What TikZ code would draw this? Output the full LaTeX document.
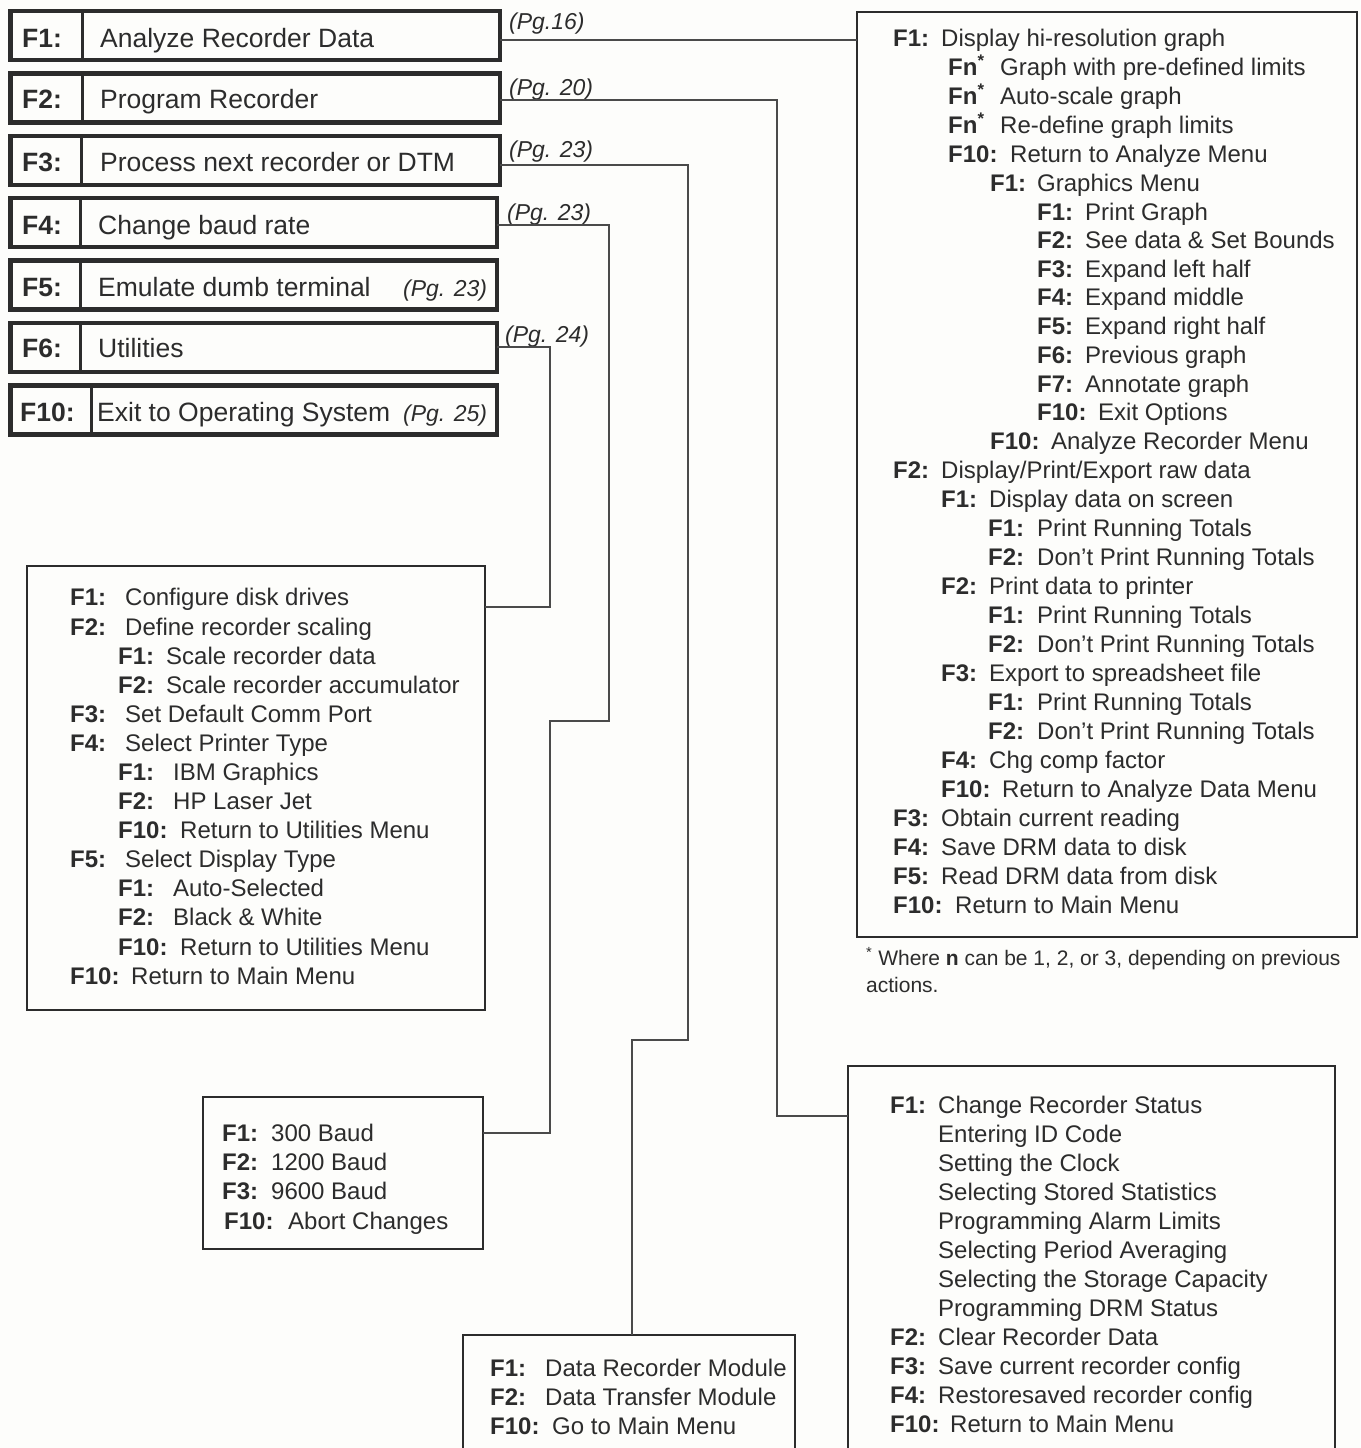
\documentclass[tikz,border=0pt]{standalone}
\usepackage{fontspec}
\setmainfont{Liberation Sans}
\definecolor{ink}{HTML}{2C2C2C}
\definecolor{wirec}{HTML}{4A4A4A}
\definecolor{paper}{HTML}{FDFDFB}
\newcounter{lnc}
\newcommand{\ml}[5]{\stepcounter{lnc}\node[lab] (la\arabic{lnc}) at (#1,#3+8.5) {#4};\node[txt] (tx\arabic{lnc}) at (#2,#3+8.5) {#5};}
\newcommand{\mt}[3]{\stepcounter{lnc}\node[txt] (tx\arabic{lnc}) at (#1,#2+8.5) {#3};}
\newcommand{\fnst}{Fn\textsuperscript{*}}
\begin{document}
\begin{tikzpicture}[x=1pt,y=-1pt,
  mainbox/.style={draw=ink, line width=4.5pt, minimum height=49pt, inner sep=0pt, outer sep=0pt, anchor=north west},
  mainline/.style={draw=ink, line width=3.5pt},
  subbox/.style={draw=ink, line width=2.6pt, inner sep=0pt, outer sep=0pt, anchor=north west},
  wire/.style={draw=wirec, line width=2pt},
  lab/.style={font=\bfseries\fontsize{24}{28}\selectfont, text=ink, anchor=base west, inner sep=0pt},
  txt/.style={font=\fontsize{24}{28}\selectfont, text=ink, anchor=base west, inner sep=0pt},
  mlab/.style={font=\bfseries\fontsize{26.5}{30}\selectfont, text=ink, anchor=base west, inner sep=0pt},
  mtxt/.style={font=\fontsize{26.5}{30}\selectfont, text=ink, anchor=base west, inner sep=0pt},
  pg/.style={font=\itshape\fontsize{23}{26}\selectfont, text=ink, anchor=base west, inner sep=0pt},
  foot/.style={font=\fontsize{21}{24}\selectfont, text=ink, anchor=base west, inner sep=0pt}
]
\fill[paper] (0,0) rectangle (1360,1448);
\useasboundingbox (0,0) rectangle (1360,1448);

% ---- main menu boxes ----
\node[mainbox, minimum width=489.5pt] (m1) at (10.5,11) {};
\node[mainbox, minimum width=489.5pt] (m2) at (10.5,73.4) {};
\node[mainbox, minimum width=489.5pt] (m3) at (10.5,135.8) {};
\node[mainbox, minimum width=486.5pt] (m4) at (10.5,198.2) {};
\node[mainbox, minimum width=486.5pt] (m5) at (10.5,260.6) {};
\node[mainbox, minimum width=486.5pt] (m6) at (10.5,323) {};
\node[mainbox, minimum width=486.5pt] (m7) at (10.5,385.4) {};
\draw[mainline] (m1.north west) ++(72,0) -- ++(0,49);
\draw[mainline] (m2.north west) ++(72,0) -- ++(0,49);
\draw[mainline] (m3.north west) ++(71,0) -- ++(0,49);
\draw[mainline] (m4.north west) ++(70,0) -- ++(0,49);
\draw[mainline] (m5.north west) ++(70,0) -- ++(0,49);
\draw[mainline] (m6.north west) ++(70,0) -- ++(0,49);
\draw[mainline] (m7.north west) ++(81,0) -- ++(0,49);

\node[mlab] (mk1) at (22,47.5) {F1:};
\node[mtxt] (mt1) at (100,47.5) {Analyze Recorder Data};
\node[mlab] (mk2) at (22,108.5) {F2:};
\node[mtxt] (mt2) at (100,108.5) {Program Recorder};
\node[mlab] (mk3) at (22,171.5) {F3:};
\node[mtxt] (mt3) at (100,171.5) {Process next recorder or DTM};
\node[mlab] (mk4) at (22,234.5) {F4:};
\node[mtxt] (mt4) at (98,234.5) {Change baud rate};
\node[mlab] (mk5) at (22,296.5) {F5:};
\node[mtxt] (mt5) at (98,296.5) {Emulate dumb terminal};
\node[pg] (p5) at (403,296.5) {(Pg. 23)};
\node[mlab] (mk6) at (22,357.5) {F6:};
\node[mtxt] (mt6) at (98,357.5) {Utilities};
\node[mlab] (mk7) at (20,421.5) {F10:};
\node[mtxt] (mt7) at (97,421.5) {Exit to Operating System};
\node[pg] (p7) at (403,421.5) {(Pg. 25)};

% page labels
\node[pg] (p1) at (509,29) {(Pg.16)};
\node[pg] (p2) at (509,95) {(Pg. 20)};
\node[pg] (p3) at (509,157) {(Pg. 23)};
\node[pg] (p4) at (507,220) {(Pg. 23)};
\node[pg] (p6) at (505,342) {(Pg. 24)};

% ---- sub-menu boxes ----
\node[subbox, minimum width=500pt, minimum height=925pt] (r1) at (857,12) {};
\node[subbox, minimum width=458pt, minimum height=444pt] (util) at (27,566) {};
\node[subbox, minimum width=280pt, minimum height=152pt] (baud) at (203,1097) {};
\node[subbox, minimum width=332pt, minimum height=140pt] (modb) at (463,1335) {};
\node[subbox, minimum width=487pt, minimum height=420pt] (r2) at (848,1066) {};

% ---- connectors ----
\draw[wire] (m1.east |- 0,40) -- (r1.west |- 0,40);
\draw[wire] (m2.east |- 0,100) -| (777,1116) -- (r2.west |- 0,1116);
\draw[wire] (m3.east |- 0,165) -| (688,1040) -| (modb.north -| 632,0);
\draw[wire] (m4.east |- 0,225) -| (609,721) -| (550,1133) -- (baud.east |- 0,1133);
\draw[wire] (m6.east |- 0,347) -| (550,607) -- (util.east |- 0,607);

% ---- analyze menu ----
\ml{893}{941}{38}{F1:}{Display hi-resolution graph}
\ml{948}{1000}{67}{\fnst}{Graph with pre-defined limits}
\ml{948}{1000}{96}{\fnst}{Auto-scale graph}
\ml{948}{1000}{125}{\fnst}{Re-define graph limits}
\ml{948}{1010}{154}{F10:}{Return to Analyze Menu}
\ml{990}{1037}{183}{F1:}{Graphics Menu}
\ml{1037}{1085}{212}{F1:}{Print Graph}
\ml{1037}{1085}{240}{F2:}{See data \& Set Bounds}
\ml{1037}{1085}{269}{F3:}{Expand left half}
\ml{1037}{1085}{297}{F4:}{Expand middle}
\ml{1037}{1085}{326}{F5:}{Expand right half}
\ml{1037}{1085}{355}{F6:}{Previous graph}
\ml{1037}{1085}{384}{F7:}{Annotate graph}
\ml{1037}{1098}{412}{F10:}{Exit Options}
\ml{990}{1051}{441}{F10:}{Analyze Recorder Menu}
\ml{893}{941}{470}{F2:}{Display/Print/Export raw data}
\ml{941}{989}{499}{F1:}{Display data on screen}
\ml{988}{1037}{528}{F1:}{Print Running Totals}
\ml{988}{1037}{557}{F2:}{Don't Print Running Totals}
\ml{941}{989}{586}{F2:}{Print data to printer}
\ml{988}{1037}{615}{F1:}{Print Running Totals}
\ml{988}{1037}{644}{F2:}{Don't Print Running Totals}
\ml{941}{989}{673}{F3:}{Export to spreadsheet file}
\ml{988}{1037}{702}{F1:}{Print Running Totals}
\ml{988}{1037}{731}{F2:}{Don't Print Running Totals}
\ml{941}{989}{760}{F4:}{Chg comp factor}
\ml{941}{1002}{789}{F10:}{Return to Analyze Data Menu}
\ml{893}{941}{818}{F3:}{Obtain current reading}
\ml{893}{941}{847}{F4:}{Save DRM data to disk}
\ml{893}{941}{876}{F5:}{Read DRM data from disk}
\ml{893}{955}{905}{F10:}{Return to Main Menu}

\node[foot] (fn1) at (866,965) {\textsuperscript{*} Where \textbf{n} can be 1, 2, or 3, depending on previous};
\node[foot] (fn2) at (866,992) {actions.};

% ---- utilities ----
\ml{70}{125}{597}{F1:}{Configure disk drives}
\ml{70}{125}{627}{F2:}{Define recorder scaling}
\ml{118}{166}{656}{F1:}{Scale recorder data}
\ml{118}{166}{685}{F2:}{Scale recorder accumulator}
\ml{70}{125}{714}{F3:}{Set Default Comm Port}
\ml{70}{125}{743}{F4:}{Select Printer Type}
\ml{118}{173}{772}{F1:}{IBM Graphics}
\ml{118}{173}{801}{F2:}{HP Laser Jet}
\ml{118}{180}{830}{F10:}{Return to Utilities Menu}
\ml{70}{125}{859}{F5:}{Select Display Type}
\ml{118}{173}{888}{F1:}{Auto-Selected}
\ml{118}{173}{917}{F2:}{Black \& White}
\ml{118}{180}{947}{F10:}{Return to Utilities Menu}
\ml{70}{131}{976}{F10:}{Return to Main Menu}

% ---- baud ----
\ml{222}{271}{1133}{F1:}{300 Baud}
\ml{222}{271}{1162}{F2:}{1200 Baud}
\ml{222}{271}{1191}{F3:}{9600 Baud}
\ml{224}{288}{1221}{F10:}{Abort Changes}

% ---- module ----
\ml{490}{545}{1368}{F1:}{Data Recorder Module}
\ml{490}{545}{1397}{F2:}{Data Transfer Module}
\ml{490}{552}{1426}{F10:}{Go to Main Menu}

% ---- program recorder ----
\ml{890}{938}{1105}{F1:}{Change Recorder Status}
\mt{938}{1134}{Entering ID Code}
\mt{938}{1163}{Setting the Clock}
\mt{938}{1192}{Selecting Stored Statistics}
\mt{938}{1221}{Programming Alarm Limits}
\mt{938}{1250}{Selecting Period Averaging}
\mt{938}{1279}{Selecting the Storage Capacity}
\mt{938}{1308}{Programming DRM Status}
\ml{890}{938}{1337}{F2:}{Clear Recorder Data}
\ml{890}{938}{1366}{F3:}{Save current recorder config}
\ml{890}{938}{1395}{F4:}{Restoresaved recorder config}
\ml{890}{950}{1424}{F10:}{Return to Main Menu}
\end{tikzpicture}
\end{document}
